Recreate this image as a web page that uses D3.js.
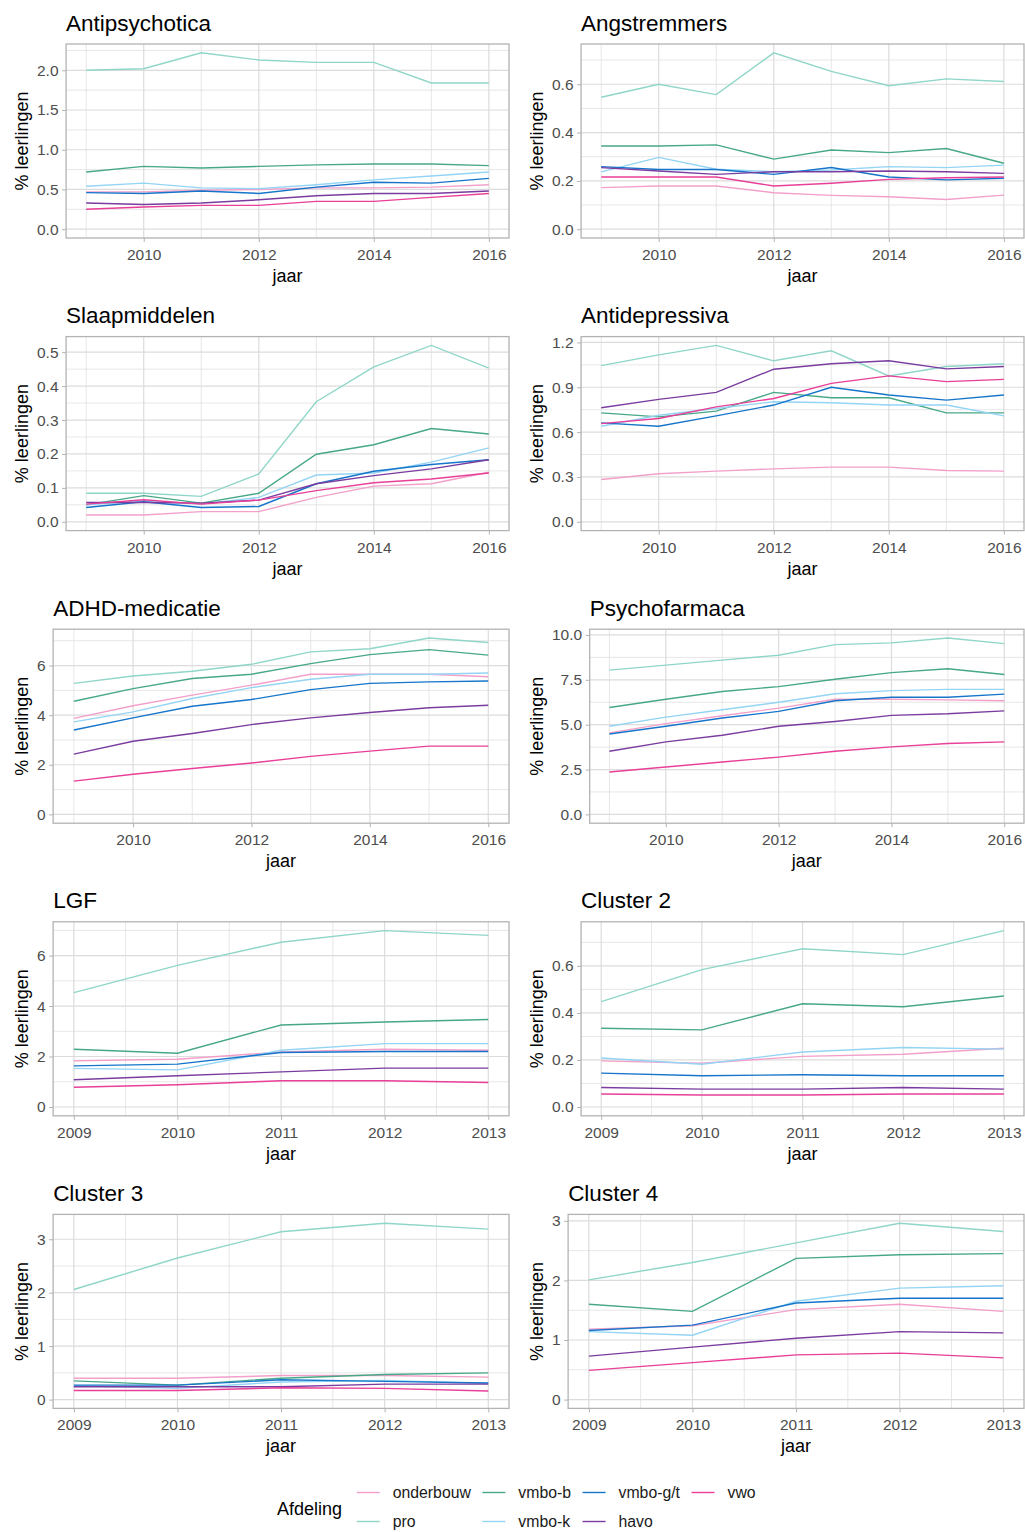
<!DOCTYPE html>
<html>
<head>
<meta charset="utf-8">
<script src="https://cdn.jsdelivr.net/npm/d3@7"></script>
<style>
  body { margin: 0; background: #fff; }
  svg { display: block; font-family: "Liberation Sans", Arial, sans-serif; }
</style>
</head>
<body>
<svg id="chart" width="1025" height="1532"></svg>
<script>
// groups, in legend / drawing order
const afdelingen = ["onderbouw", "pro", "vmbo-b", "vmbo-k", "vmbo-g/t", "havo", "vwo"];

const years16 = [2009, 2010, 2011, 2012, 2013, 2014, 2015, 2016];
const years13 = [2009, 2010, 2011, 2012, 2013];
const xTicks16 = [2010, 2012, 2014, 2016];
const xTicks13 = [2009, 2010, 2011, 2012, 2013];

// each panel: one row per afdeling (same order as above)
const antipsychotica = [
  [0.47, 0.47, 0.49, 0.50, 0.52, 0.52, 0.53, 0.56],
  [2.00, 2.02, 2.22, 2.13, 2.10, 2.10, 1.84, 1.84],
  [0.72, 0.79, 0.77, 0.79, 0.81, 0.82, 0.82, 0.80],
  [0.54, 0.58, 0.52, 0.51, 0.56, 0.62, 0.67, 0.72],
  [0.46, 0.45, 0.48, 0.45, 0.53, 0.59, 0.58, 0.64],
  [0.33, 0.31, 0.33, 0.37, 0.42, 0.45, 0.45, 0.48],
  [0.25, 0.28, 0.30, 0.30, 0.35, 0.35, 0.40, 0.45]
];
const angstremmers = [
  [0.172, 0.179, 0.179, 0.151, 0.140, 0.134, 0.123, 0.141],
  [0.546, 0.600, 0.557, 0.730, 0.653, 0.594, 0.622, 0.611],
  [0.344, 0.344, 0.349, 0.290, 0.328, 0.317, 0.334, 0.273],
  [0.237, 0.297, 0.248, 0.238, 0.245, 0.259, 0.255, 0.265],
  [0.259, 0.247, 0.247, 0.227, 0.255, 0.216, 0.204, 0.211],
  [0.255, 0.241, 0.227, 0.238, 0.238, 0.241, 0.238, 0.231],
  [0.216, 0.216, 0.216, 0.179, 0.190, 0.206, 0.213, 0.216]
];
const slaapmiddelen = [
  [0.020, 0.020, 0.030, 0.030, 0.072, 0.105, 0.112, 0.146],
  [0.084, 0.084, 0.075, 0.141, 0.354, 0.457, 0.520, 0.453],
  [0.050, 0.077, 0.055, 0.084, 0.199, 0.227, 0.275, 0.259],
  [0.050, 0.062, 0.052, 0.072, 0.138, 0.144, 0.176, 0.218],
  [0.042, 0.059, 0.042, 0.045, 0.112, 0.149, 0.169, 0.183],
  [0.057, 0.057, 0.055, 0.064, 0.112, 0.136, 0.156, 0.183],
  [0.052, 0.065, 0.052, 0.064, 0.092, 0.115, 0.126, 0.144]
];
const antidepressiva = [
  [0.283, 0.321, 0.339, 0.354, 0.366, 0.366, 0.343, 0.339],
  [1.045, 1.117, 1.180, 1.077, 1.144, 0.976, 1.039, 1.057],
  [0.729, 0.702, 0.740, 0.866, 0.830, 0.830, 0.729, 0.729],
  [0.639, 0.713, 0.758, 0.803, 0.796, 0.781, 0.781, 0.709],
  [0.662, 0.639, 0.709, 0.781, 0.900, 0.848, 0.814, 0.848],
  [0.763, 0.819, 0.866, 1.021, 1.057, 1.077, 1.023, 1.039],
  [0.657, 0.691, 0.769, 0.825, 0.926, 0.976, 0.938, 0.953]
];
const adhd = [
  [3.87, 4.38, 4.81, 5.21, 5.65, 5.65, 5.65, 5.55],
  [5.28, 5.58, 5.77, 6.05, 6.55, 6.68, 7.11, 6.93],
  [4.56, 5.07, 5.48, 5.65, 6.08, 6.44, 6.64, 6.42],
  [3.73, 4.13, 4.67, 5.11, 5.45, 5.65, 5.65, 5.70],
  [3.40, 3.89, 4.36, 4.63, 5.03, 5.28, 5.34, 5.38],
  [2.43, 2.95, 3.26, 3.62, 3.89, 4.11, 4.30, 4.40],
  [1.34, 1.62, 1.85, 2.07, 2.34, 2.55, 2.75, 2.75]
];
const psychofarmaca = [
  [4.54, 5.06, 5.50, 5.92, 6.42, 6.42, 6.38, 6.33],
  [8.04, 8.32, 8.60, 8.87, 9.46, 9.56, 9.83, 9.52],
  [5.96, 6.42, 6.85, 7.12, 7.53, 7.90, 8.12, 7.80],
  [4.91, 5.42, 5.83, 6.25, 6.72, 6.90, 6.97, 6.97],
  [4.48, 4.91, 5.37, 5.74, 6.33, 6.53, 6.53, 6.70],
  [3.52, 4.04, 4.41, 4.91, 5.18, 5.52, 5.61, 5.77],
  [2.36, 2.64, 2.92, 3.19, 3.52, 3.76, 3.95, 4.04]
];
const lgf = [
  [1.83, 1.89, 2.18, 2.29, 2.25],
  [4.53, 5.61, 6.53, 6.99, 6.80],
  [2.29, 2.13, 3.25, 3.37, 3.47],
  [1.53, 1.47, 2.25, 2.51, 2.51],
  [1.63, 1.70, 2.16, 2.20, 2.20],
  [1.08, 1.24, 1.39, 1.54, 1.54],
  [0.78, 0.88, 1.04, 1.04, 0.97]
];
const cluster2 = [
  [0.196, 0.186, 0.215, 0.224, 0.250],
  [0.448, 0.584, 0.673, 0.648, 0.750],
  [0.335, 0.328, 0.439, 0.426, 0.472],
  [0.208, 0.182, 0.234, 0.253, 0.246],
  [0.144, 0.133, 0.137, 0.133, 0.133],
  [0.083, 0.076, 0.076, 0.083, 0.076],
  [0.055, 0.051, 0.051, 0.055, 0.055]
];
const cluster3 = [
  [0.40, 0.40, 0.45, 0.45, 0.42],
  [2.06, 2.65, 3.14, 3.30, 3.19],
  [0.35, 0.27, 0.40, 0.47, 0.50],
  [0.26, 0.21, 0.33, 0.36, 0.30],
  [0.27, 0.27, 0.37, 0.34, 0.31],
  [0.24, 0.24, 0.24, 0.29, 0.29],
  [0.17, 0.17, 0.22, 0.21, 0.16]
];
const cluster4 = [
  [1.18, 1.24, 1.51, 1.60, 1.48],
  [2.01, 2.30, 2.63, 2.96, 2.82],
  [1.60, 1.48, 2.37, 2.43, 2.45],
  [1.14, 1.08, 1.65, 1.87, 1.91],
  [1.16, 1.25, 1.62, 1.70, 1.70],
  [0.73, 0.88, 1.03, 1.14, 1.12],
  [0.49, 0.62, 0.75, 0.78, 0.70]
];

const titles = ["Antipsychotica", "Angstremmers", "Slaapmiddelen", "Antidepressiva",
  "ADHD-medicatie", "Psychofarmaca", "LGF", "Cluster 2", "Cluster 3", "Cluster 4"];

const yTicksList = [
  [0, 0.5, 1, 1.5, 2],
  [0, 0.2, 0.4, 0.6],
  [0, 0.1, 0.2, 0.3, 0.4, 0.5],
  [0, 0.3, 0.6, 0.9, 1.2],
  [0, 2, 4, 6],
  [0, 2.5, 5, 7.5, 10],
  [0, 2, 4, 6],
  [0, 0.2, 0.4, 0.6],
  [0, 1, 2, 3],
  [0, 1, 2, 3]
];
const yFormats = [".1f", ".1f", ".1f", ".1f", "d", ".1f", "d", ".1f", "d", "d"];

const panels = [antipsychotica, angstremmers, slaapmiddelen, antidepressiva, adhd,
  psychofarmaca, lgf, cluster2, cluster3, cluster4].map((values, i) => ({
    title: titles[i],
    values: values,
    years: i < 6 ? years16 : years13,
    xTicks: i < 6 ? xTicks16 : xTicks13,
    yTicks: yTicksList[i],
    fmt: d3.format(yFormats[i])
  }));

const color = d3.scaleOrdinal()
  .domain(afdelingen)
  .range(["#F2A0CA", "#8FD6C8", "#47A887", "#94D4F5", "#1675CA", "#7A3C9F", "#E83F98"]);

const svg = d3.select("#chart");
const gridCol = "#DCDCDC", greyLine = "#B3B3B3", tickText = "#4D4D4D";

// minor breaks: midpoints between majors, plus one on each side
function minors(ticks) {
  const step = ticks[1] - ticks[0];
  const out = [ticks[0] - step / 2];
  ticks.forEach(t => out.push(t + step / 2));
  return out;
}

panels.forEach((p, i) => {
  const col = i % 2, row = Math.floor(i / 2);
  const x0 = col === 0 ? 0 : 515;
  const right = col === 0 ? 509 : 1024;
  const rowY = row * 292.6;
  const top = rowY + 44, bottom = rowY + 238;

  const g = svg.append("g");

  // width of y tick labels sets the panel's left edge
  const probe = g.selectAll(".probe").data(p.yTicks).join("text")
    .style("font-size", "15.5px").text(p.fmt);
  let maxW = 0;
  probe.each(function () { maxW = Math.max(maxW, this.getComputedTextLength()); });
  probe.remove();
  const left = x0 + 37 + maxW + 7.5;

  const span = p.years[p.years.length - 1] - p.years[0];
  const x = d3.scaleLinear()
    .domain([p.years[0] - span * 0.05, p.years[p.years.length - 1] + span * 0.05])
    .range([left, right]);
  const yMax = d3.max(p.values.flat());
  const y = d3.scaleLinear()
    .domain([-yMax * 0.05, yMax * 1.05])
    .range([bottom, top]);

  // grid
  const [xa, xb] = x.domain(), [ya, yb] = y.domain();
  g.append("g").selectAll("line")
    .data(minors(p.yTicks).filter(v => v > ya && v < yb))
    .join("line")
    .attr("x1", left).attr("x2", right)
    .attr("y1", d => y(d)).attr("y2", d => y(d))
    .attr("stroke", gridCol).attr("stroke-width", 0.7);
  g.append("g").selectAll("line")
    .data(minors(p.xTicks).filter(v => v > xa && v < xb))
    .join("line")
    .attr("y1", top).attr("y2", bottom)
    .attr("x1", d => x(d)).attr("x2", d => x(d))
    .attr("stroke", gridCol).attr("stroke-width", 0.7);
  g.append("g").selectAll("line")
    .data(p.yTicks)
    .join("line")
    .attr("x1", left).attr("x2", right)
    .attr("y1", d => y(d)).attr("y2", d => y(d))
    .attr("stroke", gridCol).attr("stroke-width", 1.2);
  g.append("g").selectAll("line")
    .data(p.xTicks)
    .join("line")
    .attr("y1", top).attr("y2", bottom)
    .attr("x1", d => x(d)).attr("x2", d => x(d))
    .attr("stroke", gridCol).attr("stroke-width", 1.2);

  // lines
  const line = d3.line()
    .x((d, j) => x(p.years[j]))
    .y(d => y(d));
  g.append("g").selectAll("path")
    .data(p.values)
    .join("path")
    .attr("d", d => line(d))
    .attr("fill", "none")
    .attr("stroke", (d, k) => color(afdelingen[k]))
    .attr("stroke-width", 1.4);

  // border
  g.append("rect")
    .attr("x", left).attr("y", top)
    .attr("width", right - left).attr("height", bottom - top)
    .attr("fill", "none").attr("stroke", greyLine).attr("stroke-width", 1.3);

  // axes
  const yAxis = g.append("g")
    .attr("transform", `translate(${left},0)`)
    .call(d3.axisLeft(y).tickValues(p.yTicks).tickFormat(p.fmt).tickSize(4).tickPadding(3.5));
  const xAxis = g.append("g")
    .attr("transform", `translate(0,${bottom})`)
    .call(d3.axisBottom(x).tickValues(p.xTicks).tickFormat(d3.format("d")).tickSize(4).tickPadding(7));
  [yAxis, xAxis].forEach(a => {
    a.select(".domain").remove();
    a.selectAll("line").attr("stroke", greyLine);
    a.selectAll("text").attr("fill", tickText)
      .style("font-size", "15.5px").style("font-family", "Liberation Sans, Arial, sans-serif");
  });

  // titles
  g.append("text")
    .attr("x", left).attr("y", rowY + 30.5)
    .style("font-size", "22.5px").attr("fill", "#000")
    .text(p.title);
  g.append("text")
    .attr("transform", `translate(${x0 + 28},${(top + bottom) / 2}) rotate(-90)`)
    .attr("text-anchor", "middle")
    .style("font-size", "18px").attr("fill", "#000")
    .text("% leerlingen");
  g.append("text")
    .attr("x", (left + right) / 2).attr("y", bottom + 44)
    .attr("text-anchor", "middle")
    .style("font-size", "18px").attr("fill", "#000")
    .text("jaar");
});

// legend
const legend = svg.append("g");
legend.append("text")
  .attr("x", 277).attr("y", 1515)
  .style("font-size", "18px").attr("fill", "#000")
  .text("Afdeling");

const rowsY = [1492.5, 1521.5];
let colX = 356.7;
for (let c = 0; c * 2 < afdelingen.length; c++) {
  const items = afdelingen.slice(c * 2, c * 2 + 2);
  let maxW = 0;
  items.forEach((name, r) => {
    legend.append("line")
      .attr("x1", colX).attr("x2", colX + 23)
      .attr("y1", rowsY[r]).attr("y2", rowsY[r])
      .attr("stroke", color(name)).attr("stroke-width", 1.4);
    const t = legend.append("text")
      .attr("x", colX + 36).attr("y", rowsY[r] + 5.5)
      .style("font-size", "15.8px").attr("fill", "#1A1A1A")
      .text(name);
    maxW = Math.max(maxW, t.node().getComputedTextLength());
  });
  colX += 36 + maxW + 11.5;
}
</script>
</body>
</html>
